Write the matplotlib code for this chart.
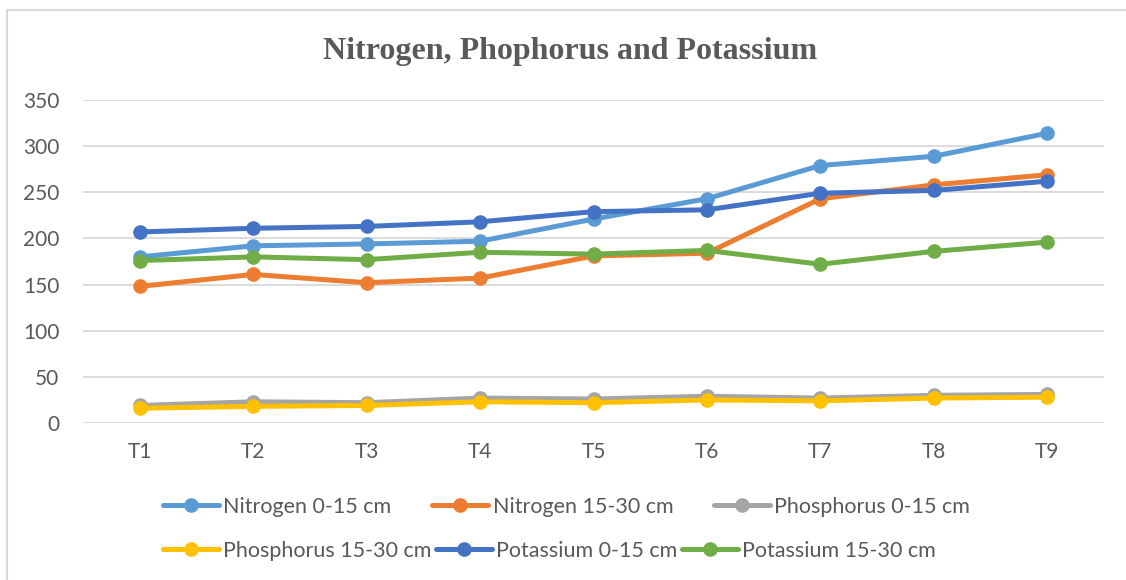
import matplotlib.pyplot as plt
from matplotlib.patches import Rectangle

plt.rcParams['font.family'] = ['Lato', 'DejaVu Sans']

################################### Data

treatments = ['T1', 'T2', 'T3', 'T4', 'T5', 'T6', 'T7', 'T8', 'T9']
nitrogen_0_15 = [180, 192, 194, 197, 221, 243, 279, 289, 314]
nitrogen_15_30 = [148, 161, 152, 157, 181, 184, 243, 258, 269]
phosphorus_0_15 = [19, 23, 22, 27, 26, 29, 27, 30, 31]
phosphorus_15_30 = [16, 18, 19, 23, 22, 25, 24, 27, 28]
potassium_0_15 = [207, 211, 213, 218, 229, 231, 249, 252, 262]
potassium_15_30 = [176, 180, 177, 185, 183, 187, 172, 186, 196]

series = [
    ('Nitrogen 0-15 cm', nitrogen_0_15, '#5B9BD5'),
    ('Nitrogen 15-30 cm', nitrogen_15_30, '#ED7D31'),
    ('Phosphorus 0-15 cm', phosphorus_0_15, '#A5A5A5'),
    ('Phosphorus 15-30 cm', phosphorus_15_30, '#FFC000'),
    ('Potassium 0-15 cm', potassium_0_15, '#4472C4'),
    ('Potassium 15-30 cm', potassium_15_30, '#70AD47'),
]

text_grey = '#595959'
grid_grey = '#D9D9D9'

################################### Plot

fig = plt.figure(figsize=(11.26, 5.80), dpi=100)
ax = fig.add_axes([83 / 1126, 1 - 423 / 580, (1104 - 83) / 1126, (423 - 100) / 580])

lines = []
for name, values, colour in series:
    ln, = ax.plot(range(len(treatments)), values, color=colour, linewidth=3.6,
                  marker='o', markersize=9.5, label=name, solid_capstyle='round')
    lines.append(ln)

ax.set_xlim(-0.5, len(treatments) - 0.5)
ax.set_ylim(0, 350)
ax.set_yticks(range(0, 351, 50))
ax.set_xticks(range(len(treatments)))
ax.set_xticklabels(treatments)
ax.yaxis.grid(True, color=grid_grey, linewidth=1.3)
ax.set_axisbelow(True)
for side in ax.spines:
    ax.spines[side].set_visible(False)
ax.tick_params(length=0, labelsize=15, labelcolor=text_grey)
ax.tick_params(axis='y', pad=17)
ax.tick_params(axis='x', pad=14)

fig.text(570 / 1126, 1 - 51 / 580, 'Nitrogen, Phophorus and Potassium',
         family='Liberation Serif', fontweight='bold', fontsize=23,
         color=text_grey, ha='center', va='center')

################################### Legend, two rows like Excel

leg_kw = dict(frameon=False, ncol=3, fontsize=15.5, handlelength=2.6,
              handletextpad=0.2, labelcolor=text_grey, borderaxespad=0,
              borderpad=0, loc='center left')
leg1 = fig.legend(handles=lines[:3], bbox_to_anchor=(163 / 1126, 1 - 507 / 580),
                  columnspacing=1.9, **leg_kw)
leg2 = fig.legend(handles=lines[3:], bbox_to_anchor=(163 / 1126, 1 - 551 / 580),
                  columnspacing=0.2, **leg_kw)

# chart border (partly cropped in the original)
fig.patches.append(Rectangle((7 / 1126, -0.1), 1.2, 1.1 - 10 / 580,
                             transform=fig.transFigure, fill=False,
                             edgecolor=grid_grey, linewidth=1.5))

fig.savefig('out.png', dpi=100)
